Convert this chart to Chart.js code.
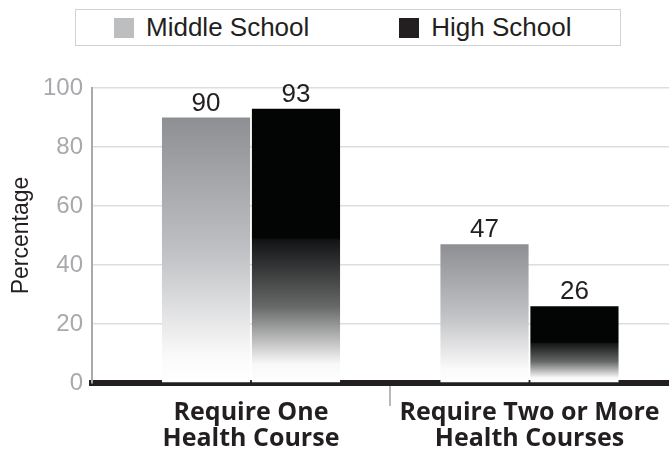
<!DOCTYPE html>
<html>
<head>
<meta charset="utf-8">
<script src="https://cdn.jsdelivr.net/npm/chart.js@4"></script>
<style>
  body { margin: 0; background: #fff; }
  #wrap { position: relative; width: 669px; height: 449px; }
  #legend {
    position: absolute; left: 75px; top: 9px; width: 546px; height: 37px;
    border: 1px solid #d1d3d4; background: #fff;
    display: flex; align-items: center; padding-left: 38px; box-sizing: border-box;
    font-family: "Liberation Sans", Arial, sans-serif; font-size: 26px; color: #231f20;
    white-space: nowrap;
  }
  .item { display: flex; align-items: center; margin-right: 90px; flex-shrink: 0; }
  .swatch { width: 20px; height: 20px; margin-right: 12px; flex-shrink: 0; }
</style>
</head>
<body>
<div id="wrap">
  <canvas id="chart" width="669" height="449"></canvas>
  <div id="legend"></div>
</div>
<script>
// Chart data
const categories = [['Require One', 'Health Course'], ['Require Two or More', 'Health Courses']];
const seriesNames = ['Middle School', 'High School'];
const middleSchool = [90, 47];
const highSchool = [93, 26];
const legendColors = ['#bcbec0', '#231f20'];
const yMax = 100;
const yStep = 20;

// Gradient stops for each series (fade to white towards the baseline)
const gradientStops = [
    [[0, '#8e8f93'], [0.5, '#bfc0c3'], [0.9, '#fafafa'], [1, '#ffffff']],
    [[0, '#030404'], [0.47, '#030404'], [0.48, '#131415'], [0.72, '#666767'], [0.93, '#f8f8f8'], [1, '#ffffff']]
];

function barGradient(ctx) {
    const chart = ctx.chart;
    if (!chart.chartArea || ctx.type !== 'data') return legendColors[ctx.datasetIndex];
    const y = chart.scales.y;
    const top = y.getPixelForValue(ctx.raw);
    const bottom = y.getPixelForValue(0);
    const g = chart.ctx.createLinearGradient(0, top, 0, bottom);
    gradientStops[ctx.datasetIndex].forEach(s => g.addColorStop(s[0], s[1]));
    return g;
}

// HTML legend
function buildLegend() {
    const legend = document.getElementById('legend');
    seriesNames.forEach((name, i) => {
        const item = document.createElement('div');
        item.className = 'item';
        const sw = document.createElement('div');
        sw.className = 'swatch';
        sw.style.background = legendColors[i];
        const label = document.createElement('span');
        label.innerText = name;
        item.appendChild(sw);
        item.appendChild(label);
        legend.appendChild(item);
    });
}

// Value labels above bars
const valueLabels = {
    id: 'valueLabels',
    afterDatasetsDraw(chart) {
        const ctx = chart.ctx;
        ctx.save();
        ctx.font = '26px "Liberation Sans", Arial, sans-serif';
        ctx.fillStyle = '#231f20';
        ctx.textAlign = 'center';
        ctx.textBaseline = 'alphabetic';
        chart.data.datasets.forEach((ds, di) => {
            chart.getDatasetMeta(di).data.forEach((bar, i) => {
                ctx.fillText(ds.data[i], bar.x, bar.y - 7);
            });
        });
        ctx.restore();
    }
};

function createChart() {
    const ctx = document.getElementById('chart').getContext('2d');
    new Chart(ctx, {
        type: 'bar',
        data: {
            labels: categories,
            datasets: [
                { label: seriesNames[0], data: middleSchool, backgroundColor: barGradient },
                { label: seriesNames[1], data: highSchool, backgroundColor: barGradient }
            ]
        },
        options: {
            responsive: false,
            animation: false,
            layout: { padding: { top: 88, right: 0, bottom: 0, left: 0 } },
            datasets: { bar: { categoryPercentage: 0.646, barPercentage: 0.98 } },
            plugins: { legend: { display: false }, tooltip: { enabled: false } },
            scales: {
                x: {
                    afterFit: s => { s.height = 66; },
                    // groups sit a little right of the category centres in the original
                    afterBuildTicks: s => { s._startValue = -0.571; s._valueRange = 2.072; },
                    grid: {
                        offset: true,
                        drawOnChartArea: false,
                        tickLength: 23,
                        lineWidth: 2,
                        color: c => (c.index === 1 ? '#b8b9bb' : 'rgba(0,0,0,0)')
                    },
                    border: { display: true, color: '#231f20', width: 6 },
                    ticks: {
                        padding: -6,
                        color: '#231f20',
                        maxRotation: 0,
                        font: { family: '"Open Sans", sans-serif', size: 25, weight: 'bold', lineHeight: 1.04 }
                    }
                },
                y: {
                    min: 0,
                    max: yMax,
                    afterFit: s => { s.width = 92; },
                    ticks: {
                        stepSize: yStep,
                        padding: 9,
                        color: '#a7a9ac',
                        font: { family: '"Liberation Sans", Arial, sans-serif', size: 24 }
                    },
                    grid: { drawTicks: false, color: '#dcdddf', lineWidth: 1.5 },
                    border: { display: true, color: '#a7a9ac', width: 2 },
                    title: {
                        display: true,
                        text: 'Percentage',
                        color: '#231f20',
                        padding: { top: 8, bottom: 0 },
                        font: { family: '"Liberation Sans", Arial, sans-serif', size: 23 }
                    }
                }
            }
        },
        plugins: [valueLabels]
    });
}

document.addEventListener('DOMContentLoaded', () => {
    buildLegend();
    createChart();
});
</script>
</body>
</html>
